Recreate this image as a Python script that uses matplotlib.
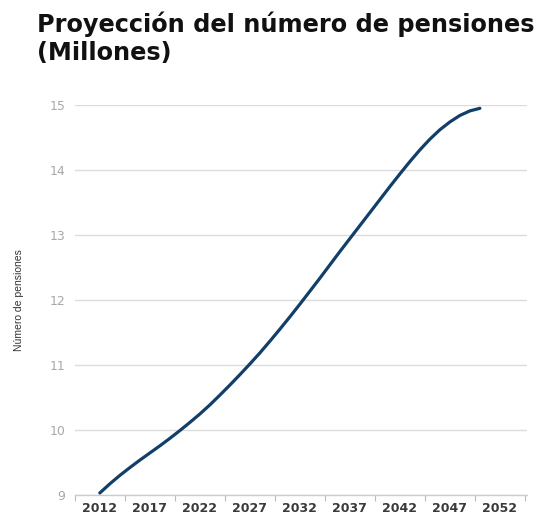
import matplotlib.pyplot as plt
import numpy as np

# Proyección anual del número de pensiones (millones), 2012-2050
years = np.arange(2012, 2051)
pensiones = [9.03, 9.17, 9.30, 9.42, 9.535, 9.645, 9.755, 9.87, 9.99, 10.115,
             10.245, 10.385, 10.535, 10.69, 10.85, 11.015, 11.185, 11.365, 11.55, 11.74,
             11.935, 12.135, 12.335, 12.54, 12.745, 12.945, 13.145, 13.345, 13.545, 13.745,
             13.94, 14.13, 14.31, 14.475, 14.62, 14.74, 14.84, 14.91, 14.95]

xtick_years = [2012, 2017, 2022, 2027, 2032, 2037, 2042, 2047, 2052]
ytick_vals = [9, 10, 11, 12, 13, 14, 15]

fig = plt.figure(figsize=(5.5, 5.15), dpi=100)
ax = fig.add_axes([0.136, 0.039, 0.822, 0.757])

ax.plot(years, pensiones, color='#123f69', linewidth=2.3,
        solid_capstyle='round', solid_joinstyle='round', zorder=3)

ax.set_xlim(2009.5, 2054.7)
ax.set_ylim(9, 15)

# grid only on y, category-style ticks between the year labels
ax.set_yticks(ytick_vals)
ax.yaxis.grid(True, color='#dcdcdc', linewidth=1)
ax.set_axisbelow(True)
ax.tick_params(axis='y', length=0, pad=7, labelsize=9, labelcolor='#a8a8a8')

ax.set_xticks(xtick_years)
ax.set_xticklabels([str(y) for y in xtick_years], fontweight='bold')
ax.set_xticks(np.arange(2009.5, 2055, 5), minor=True)
ax.tick_params(axis='x', which='major', length=0, pad=5, labelsize=9, labelcolor='#3a3a3a')
ax.tick_params(axis='x', which='minor', length=4, width=0.8, color='#bbbbbb')

for side in ['top', 'right', 'left']:
    ax.spines[side].set_visible(False)
ax.spines['bottom'].set_color('#cccccc')
ax.spines['bottom'].set_linewidth(1)

ax.set_ylabel('Número de pensiones', fontsize=7.5, color='#333333', family='Liberation Sans', labelpad=18)

fig.text(0.067, 0.978, 'Proyección del número de pensiones\n(Millones)', ha='left', va='top',
         fontsize=17.3, fontweight='bold', family='DejaVu Sans', color='#111111', linespacing=1.2)

fig.savefig('out.png', dpi=100)
